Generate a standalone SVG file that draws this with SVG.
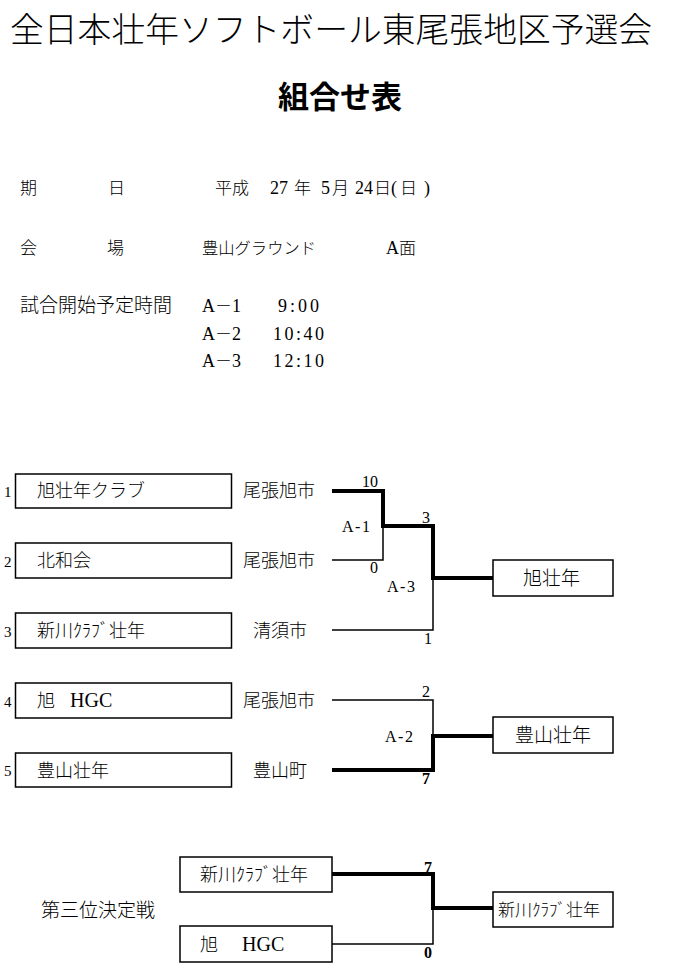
<svg xmlns="http://www.w3.org/2000/svg" width="700" height="969" viewBox="0 0 700 969">
<style>
text{font-family:"Liberation Serif","Noto Sans CJK JP",serif;fill:#000}
.jp{font-family:"Noto Sans CJK JP","Liberation Serif",sans-serif;font-weight:300}
.title{font-size:33.8px}
.sub{font-size:31px;font-weight:bold}
.info{font-size:17px}
.lat{font-size:18px}
.team{font-size:18px}
.num{font-size:15px}
.score{font-size:16px}
.match{font-size:16px;letter-spacing:1.5px}
.box{fill:#fff;stroke:#000;stroke-width:1.5}
.thin{fill:none;stroke:#000;stroke-width:1.5}
.thick{fill:none;stroke:#000;stroke-width:4;stroke-linejoin:miter}
</style>
<rect width="700" height="969" fill="#fff"/>
<g id="header">
<text class="jp title" x="10" y="42">全日本壮年ソフトボール東尾張地区予選会</text>
<text class="jp sub" x="340" y="108" text-anchor="middle">組合せ表</text>
</g>
<g id="info">
<text class="jp info" x="20" y="194">期</text>
<text class="jp info" x="108" y="194">日</text>
<text class="info" y="194"><tspan class="jp" x="215">平成</tspan><tspan class="lat" x="270">27</tspan><tspan class="jp" x="294">年</tspan><tspan class="lat" x="321">5</tspan><tspan class="jp" x="332">月</tspan><tspan class="lat" x="355">24</tspan><tspan class="jp" x="374">日</tspan><tspan class="lat" x="391">(</tspan><tspan class="jp" x="400">日</tspan><tspan class="lat" x="424">)</tspan></text>
<text class="jp info" x="20" y="254">会</text>
<text class="jp info" x="107" y="254">場</text>
<text class="jp" x="202" y="254" font-size="16.3">豊山グラウンド</text>
<text class="info" x="386" y="254"><tspan class="lat">A</tspan><tspan class="jp">面</tspan></text>
<text class="jp" x="20" y="312" font-size="19">試合開始予定時間</text>
<text class="info" x="202" y="312"><tspan class="lat">A</tspan><tspan class="jp">－</tspan><tspan class="lat">1</tspan></text>
<text class="info" x="202" y="340"><tspan class="lat">A</tspan><tspan class="jp">－</tspan><tspan class="lat">2</tspan></text>
<text class="info" x="202" y="367"><tspan class="lat">A</tspan><tspan class="jp">－</tspan><tspan class="lat">3</tspan></text>
<text x="278" y="312" font-size="18" letter-spacing="3">9:00</text>
<text x="273" y="340" font-size="18" letter-spacing="2.5">10:40</text>
<text x="273" y="367" font-size="18" letter-spacing="2.5">12:10</text>
</g>
<g id="connectors">
<path class="thin" d="M332 560H383V526"/>
<path class="thin" d="M332 630H433V578"/>
<path class="thick" d="M332 491H383V526H433V578H493"/>
<path class="thin" d="M332 700H433V736"/>
<path class="thick" d="M332 770H433V736H493"/>
<path class="thin" d="M332 944H433V908"/>
<path class="thick" d="M332 874H433V908H493"/>
</g>
<g id="team1">
<text class="num" x="4" y="497">1</text>
<rect class="box" x="15.5" y="474" width="216" height="34"/>
<text class="jp team" x="37" y="497">旭壮年クラブ</text>
<text class="jp team" x="243" y="497">尾張旭市</text>
</g>
<g id="team2">
<text class="num" x="4" y="567">2</text>
<rect class="box" x="15.5" y="543" width="216" height="35"/>
<text class="jp team" x="37" y="567">北和会</text>
<text class="jp team" x="243" y="567">尾張旭市</text>
</g>
<g id="team3">
<text class="num" x="4" y="637">3</text>
<rect class="box" x="15.5" y="613" width="216" height="35"/>
<text class="jp team" x="37" y="637">新川ｸﾗﾌﾞ壮年</text>
<text class="jp team" x="253" y="637">清須市</text>
</g>
<g id="team4">
<text class="num" x="4" y="707">4</text>
<rect class="box" x="15.5" y="683" width="216" height="35"/>
<text class="team" y="707"><tspan class="jp" x="37">旭</tspan><tspan x="70" font-size="20">HGC</tspan></text>
<text class="jp team" x="243" y="707">尾張旭市</text>
</g>
<g id="team5">
<text class="num" x="4" y="776">5</text>
<rect class="box" x="15.5" y="753" width="216" height="34"/>
<text class="jp team" x="37" y="777">豊山壮年</text>
<text class="jp team" x="253" y="777">豊山町</text>
</g>
<g id="scores">
<text class="score" x="362" y="487">10</text>
<text class="score" x="370" y="573">0</text>
<text class="match" x="342" y="532">A-1</text>
<text class="score" x="422" y="523">3</text>
<text class="score" x="424" y="644">1</text>
<text class="match" x="387" y="592">A-3</text>
<text class="score" x="422" y="697">2</text>
<text class="score" x="422" y="784" font-weight="bold">7</text>
<text class="match" x="385" y="742">A-2</text>
<text class="score" x="424" y="873" font-weight="bold">7</text>
<text class="score" x="424" y="958" font-weight="bold">0</text>
</g>
<g id="winnerA3">
<rect class="box" x="493" y="560" width="120" height="36"/>
<text class="jp" x="523" y="585" font-size="19">旭壮年</text>
</g>
<g id="winnerA2">
<rect class="box" x="493" y="717" width="120" height="36"/>
<text class="jp" x="515" y="742" font-size="19">豊山壮年</text>
</g>
<g id="third-label">
<text class="jp" x="41" y="917" font-size="19">第三位決定戦</text>
</g>
<g id="third1">
<rect class="box" x="180" y="857" width="152" height="35"/>
<text class="jp team" x="200" y="881">新川ｸﾗﾌﾞ壮年</text>
</g>
<g id="third2">
<rect class="box" x="180" y="926" width="152" height="36"/>
<text class="team" y="951"><tspan class="jp" x="200">旭</tspan><tspan x="242" font-size="20">HGC</tspan></text>
</g>
<g id="third-winner">
<rect class="box" x="493" y="892" width="120" height="35"/>
<text class="jp" x="498" y="916" font-size="17">新川ｸﾗﾌﾞ壮年</text>
</g>
</svg>
